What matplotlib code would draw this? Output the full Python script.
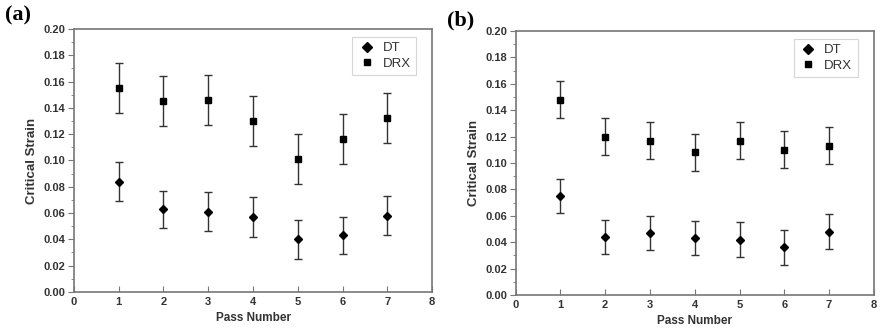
import matplotlib
matplotlib.use("Agg")
import matplotlib.pyplot as plt
from matplotlib.ticker import MultipleLocator
from matplotlib.lines import Line2D

passes = [1, 2, 3, 4, 5, 6, 7]

a_dt = [0.084, 0.063, 0.061, 0.057, 0.040, 0.043, 0.058]
a_dt_err = [0.015, 0.014, 0.015, 0.015, 0.015, 0.014, 0.015]
a_drx = [0.155, 0.145, 0.146, 0.130, 0.101, 0.116, 0.132]
a_drx_err = [0.019, 0.019, 0.019, 0.019, 0.019, 0.019, 0.019]

b_dt = [0.075, 0.044, 0.047, 0.043, 0.042, 0.036, 0.048]
b_dt_err = [0.013, 0.013, 0.013, 0.013, 0.013, 0.013, 0.013]
b_drx = [0.148, 0.120, 0.117, 0.108, 0.117, 0.110, 0.113]
b_drx_err = [0.014, 0.014, 0.014, 0.014, 0.014, 0.014, 0.014]

panels = [("(a)", a_dt, a_dt_err, a_drx, a_drx_err),
          ("(b)", b_dt, b_dt_err, b_drx, b_drx_err)]

plt.rcParams['font.family'] = ['Liberation Sans', 'DejaVu Sans']

fig = plt.figure(figsize=(8.8, 3.34), dpi=100)
rects = [[0.084, 0.126, 0.407, 0.787], [0.586, 0.117, 0.407, 0.790]]
label_pos = [(0.006, 0.955), (0.508, 0.94)]
spine_c = '#777777'
text_c = '#333333'

for (lab, dt, dte, drx, drxe), r, lp in zip(panels, rects, label_pos):
    ax = fig.add_axes(r)
    ax.errorbar(passes, dt, yerr=dte, fmt='D', color='black', ms=4.5,
                ecolor='#333333', elinewidth=1.0, capsize=3, capthick=1.0)
    ax.errorbar(passes, drx, yerr=drxe, fmt='s', color='black', ms=4.5,
                ecolor='#333333', elinewidth=1.0, capsize=3, capthick=1.0)
    ax.set_xlim(0, 8)
    ax.set_ylim(0, 0.20)
    ax.xaxis.set_major_locator(MultipleLocator(1))
    ax.yaxis.set_major_locator(MultipleLocator(0.02))
    ax.yaxis.set_minor_locator(MultipleLocator(0.01))
    ax.yaxis.set_major_formatter(matplotlib.ticker.FormatStrFormatter('%.2f'))
    ax.tick_params(axis='y', which='major', direction='out', length=4, color=spine_c,
                   labelsize=8, labelcolor=text_c, pad=2)
    ax.tick_params(axis='y', which='minor', direction='out', length=2, color=spine_c)
    ax.tick_params(axis='x', which='major', direction='in', length=4, color=spine_c,
                   labelsize=8, labelcolor=text_c, pad=4)
    for t in ax.get_xticklabels() + ax.get_yticklabels():
        t.set_fontweight('bold')
    for s in ax.spines.values():
        s.set_color(spine_c)
        s.set_linewidth(1.2)
    ax.set_xlabel('Pass Number', fontsize=8.5, fontweight='bold', color=text_c, labelpad=3)
    ax.set_ylabel('Critical Strain', fontsize=9.5, fontweight='bold', color=text_c, labelpad=4)
    handles = [Line2D([], [], ls='none', marker='D', color='black', ms=5, label='DT'),
               Line2D([], [], ls='none', marker='s', color='black', ms=4.5, label='DRX')]
    leg = ax.legend(handles=handles, loc='upper right', fontsize=9.5, frameon=True,
                    fancybox=False, handletextpad=0.5, borderpad=0.4, labelspacing=0.25,
                    bbox_to_anchor=(0.955, 0.97), handlelength=1.4, borderaxespad=0)
    leg.get_frame().set_edgecolor('#cccccc')
    leg.get_frame().set_linewidth(0.8)
    for t in leg.get_texts():
        t.set_color(text_c)
    fig.text(lp[0], lp[1], lab, fontsize=16, fontweight='bold',
             family=['Liberation Serif', 'DejaVu Serif'], ha='left', va='center')

fig.savefig('out.png', dpi=100)
